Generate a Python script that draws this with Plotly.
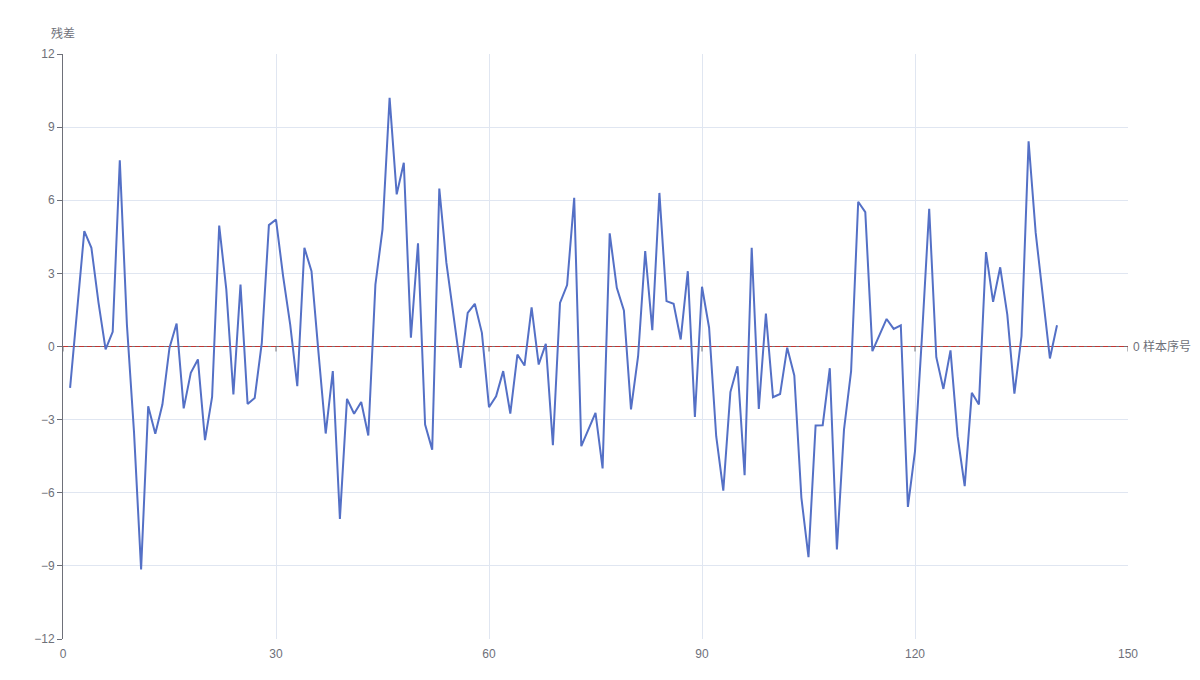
import plotly.graph_objects as go

sample_idx = list(range(1, 141))
residuals = [
    -1.70, 1.50, 4.73, 4.05, 1.80, -0.12, 0.60, 7.64, 0.90, -3.50,
    -9.15, -2.45, -3.58, -2.38, -0.05, 0.94, -2.54, -1.08, -0.53, -3.84,
    -2.07, 4.96, 2.34, -1.97, 2.54, -2.36, -2.11, 0.15, 4.98, 5.21,
    2.89, 0.90, -1.63, 4.05, 3.09, -0.30, -3.57, -1.01, -7.07, -2.15,
    -2.76, -2.28, -3.65, 2.54, 4.80, 10.20, 6.24, 7.54, 0.36, 4.23,
    -3.20, -4.23, 6.48, 3.43, 1.28, -0.88, 1.38, 1.75, 0.56, -2.49,
    -2.04, -1.01, -2.75, -0.33, -0.78, 1.61, -0.74, 0.11, -4.05, 1.79,
    2.52, 6.10, -4.09, -3.40, -2.72, -5.00, 4.64, 2.41, 1.48, -2.58,
    -0.40, 3.91, 0.67, 6.30, 1.86, 1.75, 0.29, 3.09, -2.89, 2.45,
    0.77, -3.68, -5.91, -1.87, -0.81, -5.28, 4.05, -2.56, 1.35, -2.08,
    -1.95, -0.05, -1.19, -6.21, -8.64, -3.24, -3.23, -0.89, -8.33, -3.41,
    -1.01, 5.94, 5.51, -0.19, 0.49, 1.13, 0.72, 0.87, -6.58, -4.29,
    0.50, 5.65, -0.44, -1.74, -0.16, -3.68, -5.73, -1.90, -2.38, 3.87,
    1.83, 3.25, 1.31, -1.93, 0.42, 8.42, 4.66, 2.15, -0.49, 0.87,
]
x_ticks = [0, 30, 60, 90, 120, 150]
y_ticks = [-12, -9, -6, -3, 0, 3, 6, 9, 12]

AXIS = "#6E7079"
GRID = "#E0E6F1"
FONT = "Liberation Sans, Noto Sans CJK SC, sans-serif"

fig = go.Figure()
fig.add_trace(go.Scatter(
    x=sample_idx, y=residuals, mode="lines",
    line=dict(color="#5470C6", width=2),
    hoverinfo="x+y", showlegend=False,
))

shapes = []
# zero axis line and red dashed mark line
shapes.append(dict(type="line", xref="x", yref="y", x0=0, x1=150, y0=0, y1=0,
                   line=dict(color=AXIS, width=1), layer="between"))
shapes.append(dict(type="line", xref="x", yref="y", x0=0, x1=150, y0=0, y1=0,
                   line=dict(color="#C23531", width=1, dash="5px,3px"), layer="between"))
# x ticks on the zero line
for t in x_ticks:
    shapes.append(dict(type="line", xref="x", yref="y", x0=t, x1=t,
                       ysizemode="pixel", yanchor=0, y0=0, y1=-5,
                       line=dict(color=AXIS, width=1), layer="between"))

fig.update_layout(
    width=1200, height=680,
    margin=dict(l=63, r=72, t=54, b=41),
    paper_bgcolor="white", plot_bgcolor="white",
    font=dict(family=FONT, size=12, color=AXIS),
    xaxis=dict(range=[0, 150], tickvals=x_ticks, showgrid=True, gridcolor=GRID,
               gridwidth=1, zeroline=False, showline=False, ticks="",
               ticklabelstandoff=6,
               tickfont=dict(size=12, color=AXIS)),
    yaxis=dict(range=[-12, 12], tickvals=y_ticks, showgrid=True, gridcolor=GRID,
               gridwidth=1, zeroline=False, showline=True, linecolor=AXIS,
               linewidth=1, ticks="outside", ticklen=5, tickcolor=AXIS,
               tickfont=dict(size=12, color=AXIS)),
    shapes=shapes,
    annotations=[
        dict(text="残差", xref="paper", yref="paper", x=0, y=1, xanchor="center",
             yanchor="bottom", yshift=11, showarrow=False,
             font=dict(size=12, color=AXIS, family=FONT)),
        dict(text="0 样本序号", xref="x", yref="y", x=150, y=0, xanchor="left",
             yanchor="middle", xshift=3, showarrow=False,
             font=dict(size=12, color=AXIS, family=FONT)),
    ],
)

fig.write_html("out.html")
